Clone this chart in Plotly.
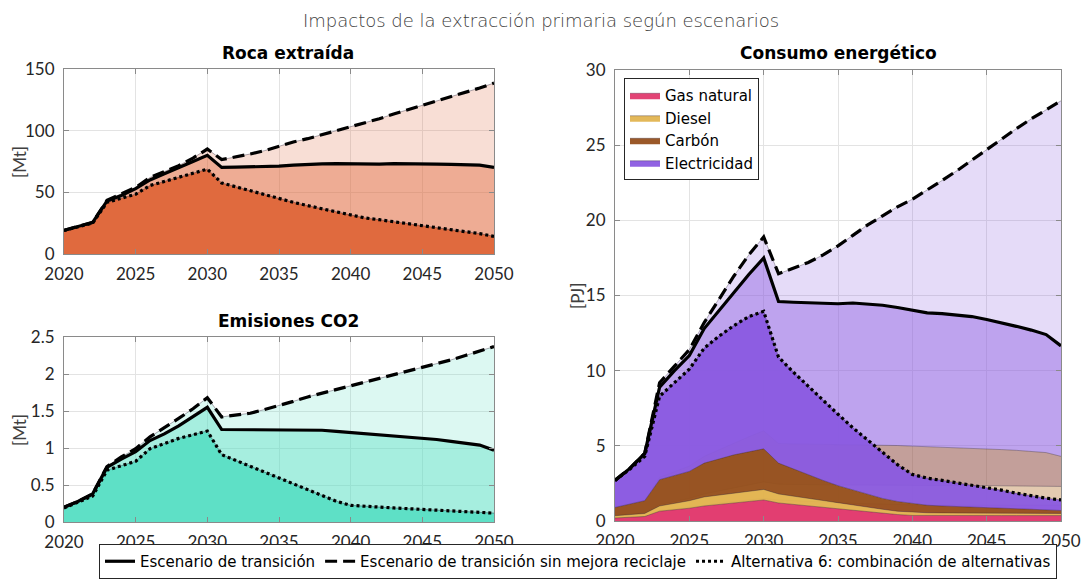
import plotly.graph_objects as go

# ---------------------------------------------------------------- data
YEARS = list(range(2020, 2051))

# Roca extraída [Mt]
ROCK_SIN_MEJORA = [19.2, 22.4, 25.7, 43.5, 48.6, 54.0, 62.0, 66.5, 71.6, 77.8, 85.1,
                   76.5, 78.6, 81.1, 83.8, 87.3, 90.8, 93.5, 96.8, 100.0, 103.0,
                   106.2, 109.7, 113.5, 117.0, 120.5, 124.0, 127.3, 131.0, 134.6, 138.6]
ROCK_TRANSICION = [19.2, 22.3, 25.6, 43.0, 47.5, 53.0, 60.0, 65.0, 69.7, 75.0, 80.0,
                   70.2, 70.4, 70.6, 70.9, 71.2, 72.0, 72.8, 73.0, 73.2, 73.0,
                   72.4, 72.8, 73.2, 73.3, 73.2, 72.9, 72.6, 72.3, 72.0, 70.3]
ROCK_ALT6 = [19.0, 22.0, 25.0, 41.9, 45.0, 48.5, 55.5, 58.8, 61.8, 65.0, 68.8,
             57.6, 54.4, 51.1, 47.9, 44.6, 41.9, 39.2, 36.6, 34.2, 31.9,
             29.2, 27.8, 26.2, 24.6, 23.2, 21.9, 20.3, 18.4, 16.5, 14.3]

# Emisiones CO2 [Mt]
CO2_SIN_MEJORA = [0.20, 0.28, 0.38, 0.75, 0.88, 0.99, 1.15, 1.27, 1.40, 1.53, 1.68,
                  1.42, 1.44, 1.47, 1.52, 1.57, 1.63, 1.69, 1.74, 1.79, 1.84,
                  1.88, 1.94, 1.99, 2.04, 2.09, 2.14, 2.19, 2.25, 2.31, 2.37]
CO2_TRANSICION = [0.20, 0.28, 0.38, 0.74, 0.85, 0.95, 1.10, 1.19, 1.30, 1.42, 1.55,
                  1.25, 1.25, 1.245, 1.24, 1.24, 1.245, 1.245, 1.24, 1.225, 1.21,
                  1.19, 1.18, 1.165, 1.15, 1.135, 1.115, 1.09, 1.065, 1.04, 0.97]
CO2_ALT6 = [0.19, 0.27, 0.35, 0.70, 0.76, 0.82, 0.99, 1.06, 1.13, 1.18, 1.23,
            0.91, 0.83, 0.75, 0.67, 0.59, 0.51, 0.43, 0.35, 0.28, 0.225,
            0.21, 0.20, 0.19, 0.18, 0.17, 0.16, 0.15, 0.14, 0.13, 0.12]

# Consumo energético [PJ] por fuente
ALT6_GAS = [0.20, 0.25, 0.30, 0.65, 0.75, 0.85, 1.00, 1.10, 1.20, 1.30, 1.40,
            1.20, 1.10, 1.00, 0.90, 0.80, 0.70, 0.60, 0.50, 0.43, 0.37,
            0.36, 0.36, 0.36, 0.36, 0.36, 0.36, 0.36, 0.36, 0.36, 0.36]
ALT6_DIESEL = [0.15, 0.17, 0.20, 0.35, 0.40, 0.50, 0.60, 0.62, 0.65, 0.70, 0.70,
               0.60, 0.55, 0.50, 0.45, 0.40, 0.35, 0.30, 0.28, 0.22, 0.21,
               0.19, 0.18, 0.17, 0.17, 0.16, 0.16, 0.15, 0.15, 0.14, 0.14]
ALT6_CARBON = [0.55, 0.68, 0.85, 1.75, 1.85, 1.95, 2.25, 2.43, 2.55, 2.60, 2.70,
               2.05, 1.80, 1.55, 1.35, 1.15, 1.00, 0.85, 0.72, 0.65, 0.57,
               0.50, 0.46, 0.44, 0.41, 0.38, 0.34, 0.31, 0.27, 0.24, 0.20]
ALT6_ELEC = [1.80, 2.35, 2.95, 5.55, 6.20, 6.80, 7.65, 8.15, 8.60, 9.00, 9.15,
             7.05, 6.45, 5.90, 5.30, 4.75, 4.15, 3.65, 3.10, 2.45, 1.95,
             1.80, 1.70, 1.58, 1.46, 1.32, 1.19, 1.03, 0.89, 0.78, 0.70]

TR_GAS = [0.20, 0.25, 0.30, 0.70, 0.80, 0.90, 1.05, 1.20, 1.30, 1.40, 1.50,
          1.40, 1.35, 1.30, 1.25, 1.20, 1.18, 1.15, 1.12, 1.10, 1.05,
          1.05, 1.05, 1.05, 1.05, 1.05, 1.05, 1.05, 1.05, 1.05, 1.05]
TR_DIESEL = [0.20, 0.22, 0.25, 0.40, 0.50, 0.60, 0.75, 0.80, 0.90, 1.00, 1.10,
             1.05, 1.07, 1.10, 1.15, 1.20, 1.22, 1.25, 1.28, 1.30, 1.35,
             1.34, 1.33, 1.32, 1.31, 1.30, 1.29, 1.28, 1.27, 1.26, 1.25]
TR_CARBON = [0.55, 0.68, 0.85, 1.80, 1.95, 2.15, 2.50, 2.75, 3.00, 3.20, 3.40,
             2.70, 2.71, 2.72, 2.70, 2.70, 2.68, 2.66, 2.65, 2.62, 2.58,
             2.56, 2.54, 2.51, 2.48, 2.45, 2.41, 2.37, 2.31, 2.24, 2.00]
TR_ELEC = [1.75, 2.35, 3.10, 6.00, 6.75, 7.35, 8.50, 9.25, 10.00, 10.80, 11.50,
           9.45, 9.42, 9.38, 9.35, 9.35, 9.42, 9.39, 9.30, 9.18, 9.07,
           8.90, 8.88, 8.82, 8.76, 8.60, 8.45, 8.25, 8.07, 7.85, 7.35]

# sin mejora de reciclaje: mismas fuentes fósiles que la alternativa 6
SM_GAS = ALT6_GAS
SM_DIESEL = ALT6_DIESEL
SM_CARBON = ALT6_CARBON
SM_ELEC = [1.80, 2.40, 3.15, 6.45, 7.30, 8.10, 9.35, 10.65, 11.90, 13.10, 14.10,
           12.60, 13.35, 14.15, 15.00, 15.95, 16.95, 17.95, 18.80, 19.60, 20.25,
           20.95, 21.65, 22.33, 23.06, 23.85, 24.54, 25.28, 25.97, 26.61, 27.25]

FUELS = ["Gas natural", "Diesel", "Carbón", "Electricidad"]
SCEN_NAMES = ["Escenario de transición",
              "Escenario de transición sin mejora reciclaje",
              "Alternativa 6: combinación de alternativas"]

# ---------------------------------------------------------------- styling
W, H = 1082, 579
FONT = "Lato, 'DejaVu Sans', sans-serif"
WIDE = "'DejaVu Sans', Lato, sans-serif"
FUEL_RGB = [(224, 58, 110), (226, 180, 80), (150, 80, 30), (138, 90, 224)]
ROCK_RGB = (224, 106, 62)
CO2_RGB = (94, 224, 198)
ALPHA_SM, ALPHA_TR, ALPHA_A6 = 0.22, 0.43, 0.95
EDGE = "rgba(40,30,50,0.55)"


def rgba(rgb, a):
    return "rgba(%d,%d,%d,%.2f)" % (rgb[0], rgb[1], rgb[2], a)


def dom_x(left, right):
    return [left / W, right / W]


def dom_y(top, bottom):
    return [1 - bottom / H, 1 - top / H]


def totals(*layers):
    return [round(sum(v), 4) for v in zip(*layers)]


fig = go.Figure()

LINE_STYLES = {
    "tr": dict(dash="solid", name=SCEN_NAMES[0]),
    "sm": dict(dash="12px,6px", name=SCEN_NAMES[1]),
    "a6": dict(dash="3px,3px", name=SCEN_NAMES[2]),
}


def add_lines(xa, ya, values, legend):
    for key in ("tr", "sm", "a6"):
        st = LINE_STYLES[key]
        fig.add_trace(go.Scatter(
            x=YEARS, y=values[key], mode="lines", xaxis=xa, yaxis=ya,
            line=dict(color="black", width=3.2, dash=st["dash"]),
            name=st["name"], showlegend=legend, legend="legend",
            hoverinfo="skip"))


def add_simple_areas(xa, ya, rgb, values):
    for key, alpha in (("sm", ALPHA_SM), ("tr", ALPHA_TR), ("a6", 1.0)):
        fig.add_trace(go.Scatter(
            x=YEARS, y=values[key], mode="lines", fill="tozeroy",
            fillcolor=rgba(rgb, alpha), line=dict(color=EDGE, width=0.7),
            xaxis=xa, yaxis=ya, showlegend=False, hoverinfo="skip"))


# Roca extraída
rock = {"sm": ROCK_SIN_MEJORA, "tr": ROCK_TRANSICION, "a6": ROCK_ALT6}
add_simple_areas("x", "y", ROCK_RGB, rock)
add_lines("x", "y", rock, True)

# Emisiones CO2
co2 = {"sm": CO2_SIN_MEJORA, "tr": CO2_TRANSICION, "a6": CO2_ALT6}
add_simple_areas("x2", "y2", CO2_RGB, co2)
add_lines("x2", "y2", co2, False)

# Consumo energético: stacked areas per scenario
energy = {
    "sm": [SM_GAS, SM_DIESEL, SM_CARBON, SM_ELEC],
    "tr": [TR_GAS, TR_DIESEL, TR_CARBON, TR_ELEC],
    "a6": [ALT6_GAS, ALT6_DIESEL, ALT6_CARBON, ALT6_ELEC],
}
for key, alpha in (("sm", ALPHA_SM), ("tr", ALPHA_TR), ("a6", ALPHA_A6)):
    for fuel, rgb, vals in zip(FUELS, FUEL_RGB, energy[key]):
        fig.add_trace(go.Scatter(
            x=YEARS, y=vals, mode="lines", stackgroup=key,
            fillcolor=rgba(rgb, alpha), line=dict(color=EDGE, width=0.6),
            xaxis="x3", yaxis="y3", name=fuel,
            showlegend=(key == "a6"), legend="legend2", hoverinfo="skip"))

energy_tot = {k: totals(*v) for k, v in energy.items()}
add_lines("x3", "y3", energy_tot, False)

# ---------------------------------------------------------------- axes
axis_common = dict(
    showgrid=True, gridcolor="#e3e3e3", gridwidth=1,
    showline=True, linecolor="#8a8a8a", linewidth=1, mirror="ticks",
    ticks="inside", ticklen=5, tickcolor="#8a8a8a",
    tickfont=dict(family=FONT, size=17, color="#262626"),
    zeroline=False, automargin=False,
)
xcommon = dict(axis_common, range=[2020, 2050], tick0=2020, dtick=5,
               ticklabelstandoff=5)
ycommon = dict(axis_common, ticklabelstandoff=5)

fig.update_layout(
    xaxis=dict(xcommon, domain=dom_x(64, 494), anchor="y"),
    yaxis=dict(ycommon, domain=dom_y(69, 254), anchor="x",
               range=[0, 150], dtick=50),
    xaxis2=dict(xcommon, domain=dom_x(64, 494), anchor="y2"),
    yaxis2=dict(ycommon, domain=dom_y(337, 522), anchor="x2",
                range=[0, 2.5], dtick=0.5),
    xaxis3=dict(xcommon, domain=dom_x(615, 1061), anchor="y3"),
    yaxis3=dict(ycommon, domain=dom_y(70, 521), anchor="x3",
                range=[0, 30], dtick=5),
)

# ---------------------------------------------------------------- text
annotations = [
    dict(text="Impactos de la extracción primaria según escenarios",
         x=541 / W, y=1 - 20 / H,
         font=dict(family=WIDE, size=18, color="#404040", weight=200)),
    dict(text="<b>Roca extraída</b>", x=288 / W, y=1 - 53 / H,
         font=dict(family=WIDE, size=17, color="black")),
    dict(text="<b>Emisiones CO2</b>", x=288 / W, y=1 - 321 / H,
         font=dict(family=WIDE, size=17, color="black")),
    dict(text="<b>Consumo energético</b>", x=838 / W, y=1 - 53 / H,
         font=dict(family=WIDE, size=17, color="black")),
    dict(text="[Mt]", x=19 / W, y=1 - 162 / H, textangle=-90,
         font=dict(family=FONT, size=17, color="#404040")),
    dict(text="[Mt]", x=19 / W, y=1 - 430 / H, textangle=-90,
         font=dict(family=FONT, size=17, color="#404040")),
    dict(text="[PJ]", x=577 / W, y=1 - 296 / H, textangle=-90,
         font=dict(family=FONT, size=17, color="#404040")),
]
for a in annotations:
    a.update(xref="paper", yref="paper", showarrow=False,
             xanchor="center", yanchor="middle")

fig.update_layout(
    width=W, height=H,
    margin=dict(l=0, r=0, t=0, b=0),
    paper_bgcolor="white", plot_bgcolor="white",
    annotations=annotations,
    legend=dict(
        orientation="h", x=578 / W, xanchor="center", y=0.0, yanchor="bottom",
        bordercolor="#262626", borderwidth=1, bgcolor="white",
        font=dict(family=WIDE, size=15, color="black"),
        itemwidth=30, tracegroupgap=0,
    ),
    legend2=dict(
        x=624 / W, xanchor="left", y=1 - 78 / H, yanchor="top",
        bordercolor="#262626", borderwidth=1, bgcolor="white",
        font=dict(family=WIDE, size=15, color="black"),
        itemwidth=30, traceorder="normal", tracegroupgap=0,
    ),
)

fig.write_html("out.html")
